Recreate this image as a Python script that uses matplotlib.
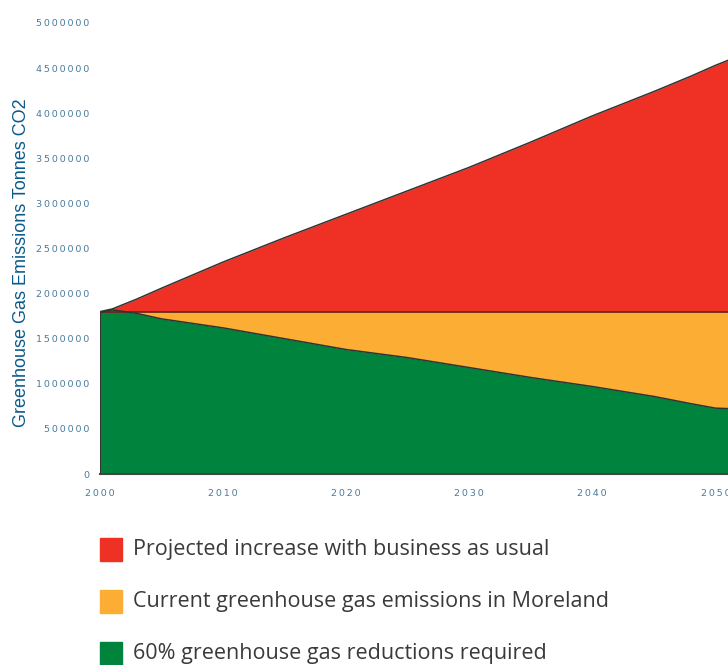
import numpy as np
import matplotlib.pyplot as plt
from matplotlib.patches import Rectangle

# values (tonnes CO2)
years = [2000, 2001, 2003, 2005, 2010, 2015, 2020, 2025, 2030, 2035, 2040, 2045, 2048, 2050, 2052]
business_as_usual = [1.80e6, 1.83e6, 1.94e6, 2.06e6, 2.35e6, 2.62e6, 2.88e6, 3.14e6, 3.40e6,
                     3.68e6, 3.97e6, 4.24e6, 4.41e6, 4.53e6, 4.64e6]
current_level = 1.8e6
target_path = [1.79e6, 1.82e6, 1.78e6, 1.72e6, 1.62e6, 1.50e6, 1.38e6, 1.29e6, 1.18e6,
               1.07e6, 0.97e6, 0.86e6, 0.78e6, 0.73e6, 0.72e6]
legend_labels = ["Projected increase with business as usual",
                 "Current greenhouse gas emissions in Moreland",
                 "60% greenhouse gas reductions required"]
colors = ["#EE3124", "#FBAE33", "#00843D"]

yrs = np.array(years)
bau = np.array(business_as_usual)
tgt = np.array(target_path)
cur = np.full(len(yrs), current_level)

fig = plt.figure(figsize=(7.28, 6.65), dpi=100)
ax = fig.add_axes([100/728, 191/665, 640/728, 451/665])

ax.fill_between(yrs, cur, np.maximum(bau, cur), color=colors[0], lw=0)
ax.fill_between(yrs, tgt, cur, color=colors[1], lw=0)
ax.fill_between(yrs, 0, tgt, color=colors[2], lw=0)
ax.plot(yrs, bau, color="#333333", lw=1.1)
ax.plot(yrs, cur, color="#6b2a1c", lw=1.3)
ax.plot(yrs, tgt, color="#333333", lw=1.1)
ax.plot([yrs[0], yrs[0]], [0, tgt[0]], color="#333333", lw=1.5)

ax.set_xlim(2000, 2052)
ax.set_ylim(0, 5000000)
for s in ["top", "right", "left"]:
    ax.spines[s].set_visible(False)
ax.spines["bottom"].set_color("#444444")
ax.spines["bottom"].set_linewidth(1.5)

yt = np.arange(0, 5000001, 500000)
ax.set_yticks(yt)
ax.set_yticklabels(["\u2009".join(str(v)) for v in yt])
xt = np.arange(2000, 2051, 10)
ax.set_xticks(xt)
ax.set_xticklabels(["\u2009".join(str(v)) for v in xt])
ax.tick_params(length=0, labelsize=6.8, labelcolor="#4a7a9a", pad=8)
ax.tick_params(axis="x", pad=11)

fig.text(22/728, 1 - 263/665, "Greenhouse Gas Emissions Tonnes CO2", rotation=90,
         ha="center", va="center", fontsize=13, color="#0a5a8a", family="Liberation Sans")

for i, (lab, c) in enumerate(zip(legend_labels, colors)):
    yc = 549 + 52 * i
    fig.patches.append(Rectangle((100/728, 1 - (yc + 12)/665), 22/728, 23/665,
                                 transform=fig.transFigure, color=c))
    fig.text(133/728, 1 - yc/665, lab, ha="left", va="center", fontsize=15.5,
             color="#3a3a3a", family="Open Sans")

fig.savefig("out.png", dpi=100)
